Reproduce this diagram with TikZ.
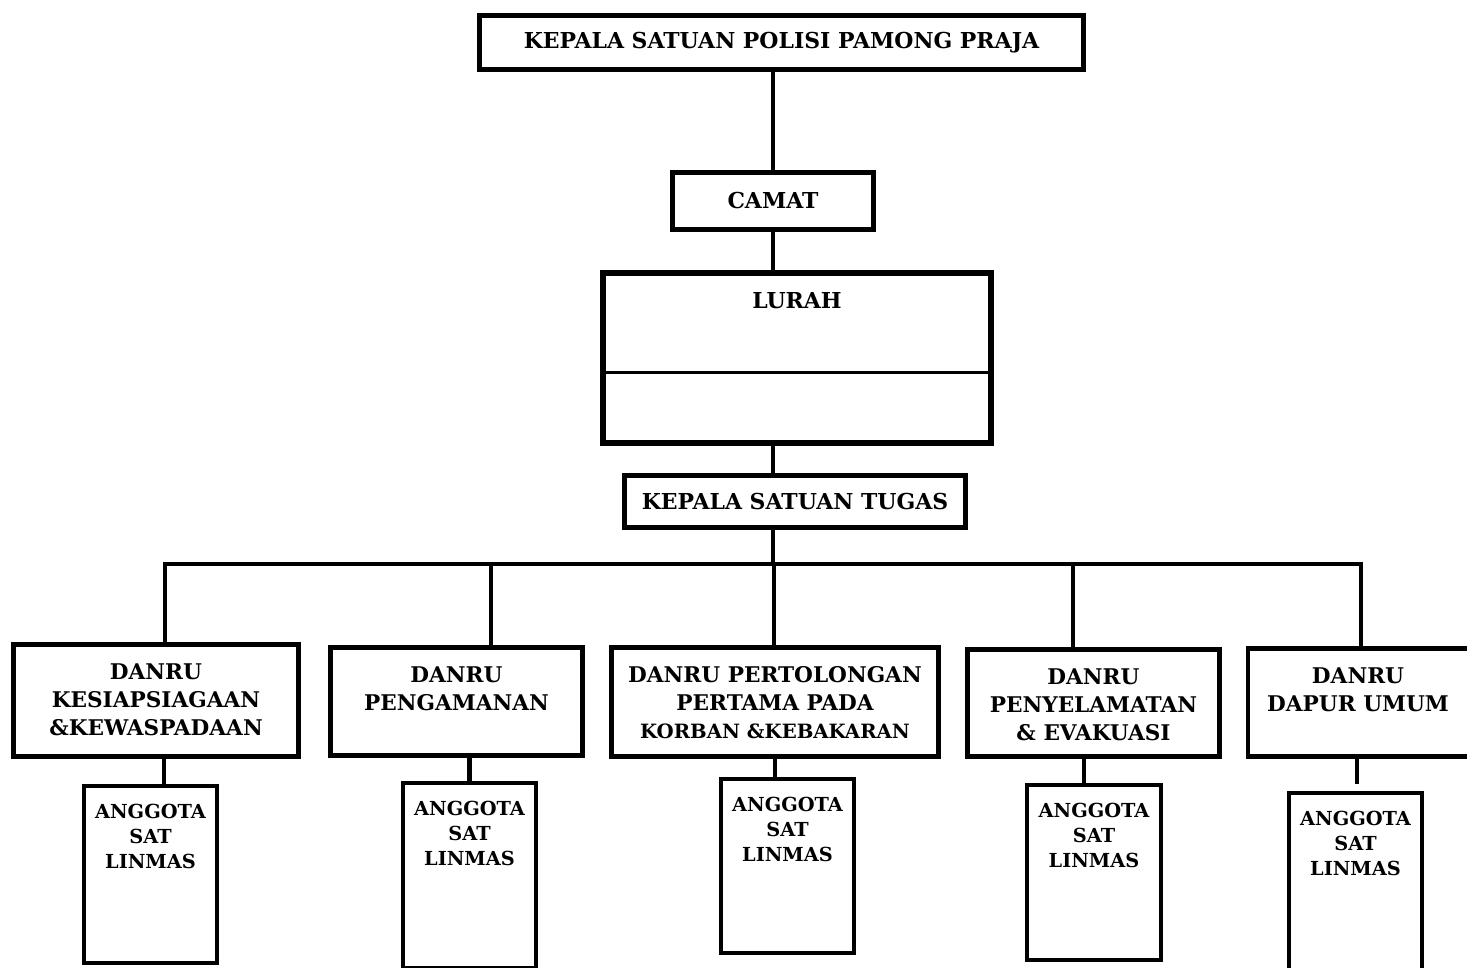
\documentclass[tikz,border=0pt]{standalone}
\usepackage{fontspec}
\setmainfont{DejaVu Serif}
\usetikzlibrary{positioning}

\begin{document}
\begin{tikzpicture}[
		x=0.02cm, y=-0.02cm,
		% Gaya untuk kotak bagian atas
		kotakAtas/.style={draw, line width=2.8pt, inner sep=0pt, font=\bfseries\fontsize{12.5}{15}\selectfont},
		kotakDanru/.style={draw, line width=2.8pt, inner sep=0pt},
		kotakAnggota/.style={draw, line width=2.3pt, inner sep=0pt},
		teksDanru/.style={font=\bfseries\fontsize{12.3}{15.9}\selectfont, align=center, inner sep=0pt, anchor=north, yshift=-12pt},
		teksAnggota/.style={font=\bfseries\fontsize{11}{14.2}\selectfont, align=center, inner sep=0pt, anchor=north, yshift=-11.5pt},
		garis/.style={line width=2.4pt},
		garisTipis/.style={line width=1.7pt},
		]
		
		\useasboundingbox (0,0) rectangle (1467,967);
		
		
		\node[kotakAtas, minimum width=12.08cm, minimum height=1.08cm] (kasat) at (781.5,42.5) {KEPALA SATUAN POLISI PAMONG PRAJA};
		\node[kotakAtas, minimum width=4.02cm, minimum height=1.14cm] (camat) at (773,201) {CAMAT};
		\node[kotakAtas, line width=3.4pt, minimum width=7.76cm, minimum height=3.4cm,
			label={[teksDanru, yshift=-0.5pt, font=\bfseries\fontsize{12.5}{15}\selectfont]north:LURAH}] (lurah) at (797,358) {};
		\node[kotakAtas, minimum width=6.82cm, minimum height=1.04cm] (ksatgas) at (795,501.5) {KEPALA SATUAN TUGAS};
		
		\draw[garisTipis] (lurah.west |- 0,372) -- (lurah.east |- 0,372);
		
		
		\draw[garis] (camat.north) -- (camat.north |- kasat.south);
		\draw[garis] (camat.south) -- (camat.south |- lurah.north);
		\draw[garis] (lurah.south -| camat) -- (ksatgas.north -| camat);
		
		
		% Danru
		\node[kotakDanru, minimum width=5.7cm, minimum height=2.24cm,
			label={[teksDanru]north:DANRU\\KESIAPSIAGAAN\\\&KEWASPADAAN}] (d1) at (156,700.5) {};
		\node[kotakDanru, minimum width=5.04cm, minimum height=2.16cm,
			label={[teksDanru]north:DANRU\\PENGAMANAN}] (d2) at (456.5,701.5) {};
		\node[kotakDanru, minimum width=6.54cm, minimum height=2.18cm,
			label={[teksDanru]north:DANRU PERTOLONGAN\\PERTAMA PADA\\{\fontsize{11.2}{15.9}\selectfont KORBAN \&KEBAKARAN}}] (d3) at (775,702) {};
		\node[kotakDanru, minimum width=5.04cm, minimum height=2.14cm,
			label={[teksDanru]north:DANRU\\PENYELAMATAN\\\& EVAKUASI}] (d4) at (1093.5,703) {};
		\node[kotakDanru, minimum width=4.52cm, minimum height=2.16cm,
			label={[teksDanru, xshift=-1.7pt]north:DANRU\\DAPUR UMUM}] (d5) at (1361,702.5) {};
		
		
		\coordinate (busL) at (165,564);
		\coordinate (busR) at (1361,564);
		\draw[garis] (ksatgas.south -| camat) -- (camat |- busL);
		\draw[garis] (d1.north -| busL) -- (busL) -- (busR) -- (busR |- d5.north);
		\draw[garis] (491,564) -- (d2.north -| 491,0);
		\draw[garis] (774,564) -- (d3.north -| 774,0);
		\draw[garis] (1073,564) -- (d4.north -| 1073,0);
		
		
		% Anggota
		\node[kotakAnggota, minimum width=2.66cm, minimum height=3.54cm,
			label={[teksAnggota]north:ANGGOTA\\SAT\\LINMAS}] (a1) at (150.5,874.5) {};
		\node[kotakAnggota, minimum width=2.66cm, minimum height=3.7cm,
			label={[teksAnggota]north:ANGGOTA\\SAT\\LINMAS}] (a2) at (469.5,875.5) {};
		\node[kotakAnggota, minimum width=2.66cm, minimum height=3.48cm,
			label={[teksAnggota]north:ANGGOTA\\SAT\\LINMAS}] (a3) at (787.5,866) {};
		\node[kotakAnggota, minimum width=2.68cm, minimum height=3.5cm,
			label={[teksAnggota]north:ANGGOTA\\SAT\\LINMAS}] (a4) at (1094,872.5) {};
		\node[kotakAnggota, minimum width=2.66cm, minimum height=3.54cm,
			label={[teksAnggota]north:ANGGOTA\\SAT\\LINMAS}] (a5) at (1355.5,881.5) {};
		
		\draw[garis] (d1.south -| 164,0) -- (a1.north -| 164,0);
		\draw[garis] (d2.south -| a2) -- (a2.north);
		\draw[garis] (d3.south -| 775,0) -- (a3.north -| 775,0);
		\draw[garis] (d4.south -| 1084,0) -- (a4.north -| 1084,0);
		\draw[garis] (d5.south -| 1357,0) -- ++(0,25);
\end{tikzpicture}
\end{document}
